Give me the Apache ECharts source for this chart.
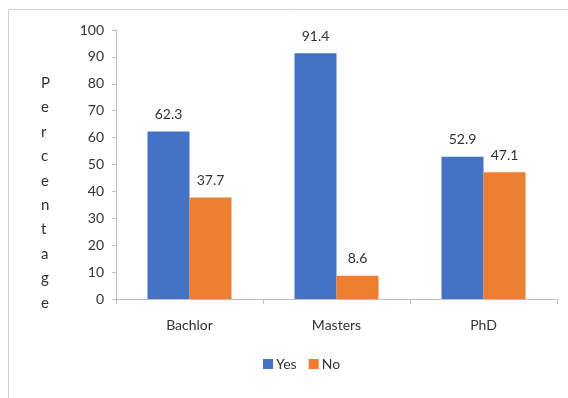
<!DOCTYPE html>
<html>
<head>
<meta charset="utf-8">
<script src="https://cdn.jsdelivr.net/npm/echarts@6/dist/echarts.min.js"></script>
<style>
  html, body { margin: 0; padding: 0; background: #fff; }
  #chart { width: 568px; height: 398px; }
</style>
</head>
<body>
<div id="chart"></div>
<script>
// Degree levels and the share answering Yes / No (percent)
const categories = ['Bachlor', 'Masters', 'PhD'];
const yesValues = [62.3, 91.4, 52.9];
const noValues = [37.7, 8.6, 47.1];
const axisTitle = 'Percentage';

const FONT = 'Lato, "Open Sans", sans-serif';
const TEXT = '#333333';
const AXIS = '#bfbfbf';

const chart = echarts.init(document.getElementById('chart'), null, { renderer: 'canvas' });

const labelStyle = {
  show: true,
  position: 'top',
  distance: 10,
  color: TEXT,
  fontSize: 14,
  fontFamily: FONT
};

chart.setOption({
  animation: false,
  backgroundColor: '#fff',
  graphic: [
    {
      type: 'rect',
      shape: { x: 8.5, y: 9.5, width: 620, height: 420 },
      style: { fill: 'none', stroke: '#d0d0d0', lineWidth: 1 },
      silent: true
    },
    {
      type: 'text',
      left: 41,
      top: 71,
      style: {
        text: axisTitle.split('').join('\n'),
        fill: TEXT,
        fontSize: 15,
        fontFamily: FONT,
        lineHeight: 24.4,
        align: 'center'
      },
      silent: true
    }
  ],
  grid: { left: 116, right: 11, top: 30, bottom: 99, containLabel: false },
  legend: {
    data: ['Yes', 'No'],
    bottom: 22,
    left: 258,
    itemWidth: 10,
    itemHeight: 10,
    itemGap: 12,
    icon: 'rect',
    textStyle: { color: TEXT, fontSize: 14, fontFamily: FONT, padding: [0, 0, 0, -2] }
  },
  xAxis: {
    type: 'category',
    data: categories,
    axisLine: { lineStyle: { color: AXIS, width: 1 } },
    axisTick: { show: true, length: 5, lineStyle: { color: AXIS } },
    axisLabel: { color: TEXT, fontSize: 14, fontFamily: FONT, margin: 19 }
  },
  yAxis: {
    type: 'value',
    min: 0,
    max: 100,
    interval: 10,
    axisLine: { show: true, lineStyle: { color: AXIS, width: 1 } },
    axisTick: { show: true, length: 4, lineStyle: { color: AXIS } },
    splitLine: { show: false },
    axisLabel: { color: TEXT, fontSize: 14, fontFamily: FONT, margin: 12 }
  },
  series: [
    {
      name: 'Yes',
      type: 'bar',
      data: yesValues,
      barWidth: 42,
      barGap: '0%',
      itemStyle: { color: '#4472C4' },
      label: labelStyle
    },
    {
      name: 'No',
      type: 'bar',
      data: noValues,
      barWidth: 42,
      barGap: '0%',
      itemStyle: { color: '#ED7D31' },
      label: labelStyle
    }
  ]
});
</script>
</body>
</html>
